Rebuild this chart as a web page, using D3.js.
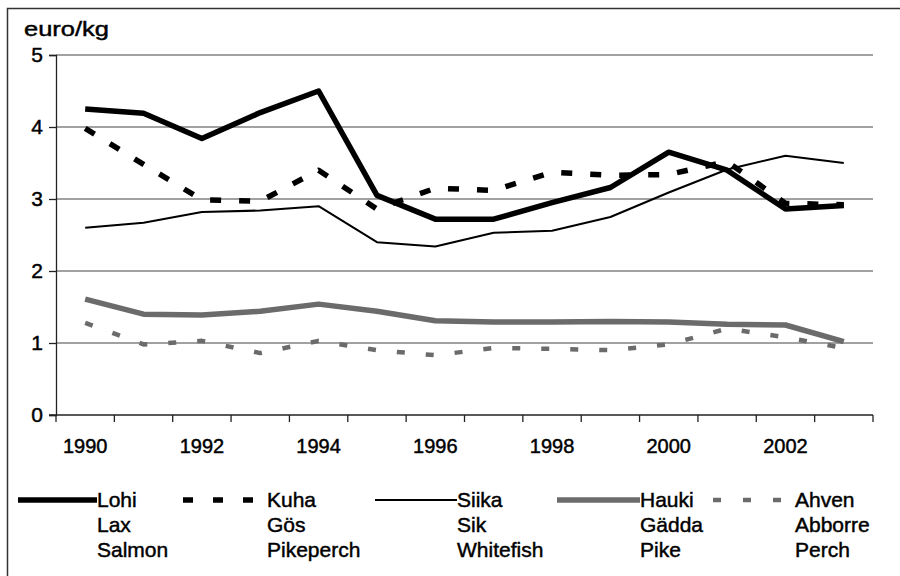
<!DOCTYPE html>
<html>
<head>
<meta charset="utf-8">
<script src="https://cdn.jsdelivr.net/npm/d3@7/dist/d3.min.js"></script>
<style>
  body { margin: 0; background: #fff; }
  svg text { font-family: "Liberation Sans", Arial, sans-serif; fill: #000; stroke: #000; stroke-width: 0.45px; }
</style>
</head>
<body>
<svg id="chart" width="900" height="576"></svg>
<script>
// years on the category axis
var years = [1990, 1991, 1992, 1993, 1994, 1995, 1996, 1997, 1998, 1999, 2000, 2001, 2002, 2003];
var yTicks = [0, 1, 2, 3, 4, 5];

// euro/kg by species
var lohi  = [4.25, 4.19, 3.84, 4.2, 4.5, 3.05, 2.72, 2.72, 2.95, 3.16, 3.65, 3.4, 2.86, 2.91];
var kuha  = [3.98, 3.48, 2.99, 2.97, 3.4, 2.86, 3.15, 3.12, 3.37, 3.33, 3.34, 3.52, 2.94, 2.92];
var siika = [2.6, 2.67, 2.82, 2.84, 2.9, 2.4, 2.34, 2.53, 2.56, 2.75, 3.09, 3.41, 3.6, 3.5];
var hauki = [1.61, 1.4, 1.39, 1.44, 1.54, 1.44, 1.31, 1.29, 1.29, 1.3, 1.29, 1.26, 1.25, 1.02];
var ahven = [1.28, 0.98, 1.03, 0.86, 1.03, 0.9, 0.83, 0.93, 0.92, 0.9, 0.98, 1.2, 1.08, 0.93];

var legendLabels = [
  ["Lohi", "Lax", "Salmon"],
  ["Kuha", "Gös", "Pikeperch"],
  ["Siika", "Sik", "Whitefish"],
  ["Hauki", "Gädda", "Pike"],
  ["Ahven", "Abborre", "Perch"]
];

var series = [
  { values: lohi,  color: "#000", width: 5.5, dash: null },
  { values: kuha,  color: "#000", width: 5.5, dash: "11,18" },
  { values: siika, color: "#000", width: 2,   dash: null },
  { values: hauki, color: "#6b6b6b", width: 5.5, dash: null },
  { values: ahven, color: "#6b6b6b", width: 4.5, dash: "8,21" }
];

var svg = d3.select("#chart");

// outer frame (right/bottom fall outside the picture)
svg.append("rect")
  .attr("x", 7.5).attr("y", 8.5)
  .attr("width", 900).attr("height", 600)
  .attr("fill", "none").attr("stroke", "#333").attr("stroke-width", 1.5);

var plotLeft = 56, plotRight = 873, plotTop = 55, plotBottom = 415;

var x = d3.scaleBand()
  .domain(years)
  .range([plotLeft, plotRight]);

var y = d3.scaleLinear()
  .domain([0, 5])
  .range([plotBottom, plotTop]);

// gridlines
svg.append("g")
  .selectAll("line")
  .data(yTicks.slice(1))
  .enter().append("line")
    .attr("x1", plotLeft).attr("x2", plotRight)
    .attr("y1", function(d) { return y(d); })
    .attr("y2", function(d) { return y(d); })
    .attr("stroke", "#444").attr("stroke-width", 1.2);

// y axis
var yAxis = svg.append("g")
  .attr("transform", "translate(" + plotLeft + ",0)")
  .call(d3.axisLeft(y).tickValues(yTicks).tickSize(7).tickPadding(6).tickFormat(d3.format("d")));
yAxis.selectAll("text").style("font-size", "21px");
yAxis.selectAll("line, path").attr("stroke", "#222").attr("stroke-width", 1.3);

// x axis (ticks at category boundaries, labels every other year)
var xAxis = svg.append("g")
  .attr("transform", "translate(0," + plotBottom + ")");
xAxis.append("line")
  .attr("x1", plotLeft - 7).attr("x2", plotRight)
  .attr("stroke", "#222").attr("stroke-width", 1.3);
xAxis.selectAll(".tk")
  .data(years.concat([null]))
  .enter().append("line")
    .attr("class", "tk")
    .attr("x1", function(d, i) { return plotLeft + i * x.step(); })
    .attr("x2", function(d, i) { return plotLeft + i * x.step(); })
    .attr("y1", 0).attr("y2", 7)
    .attr("stroke", "#222").attr("stroke-width", 1.3);
xAxis.selectAll(".lbl")
  .data(years.filter(function(d) { return d % 2 === 0; }))
  .enter().append("text")
    .attr("class", "lbl")
    .attr("x", function(d) { return x(d) + x.bandwidth() / 2; })
    .attr("y", 38)
    .attr("text-anchor", "middle")
    .style("font-size", "20px")
    .text(function(d) { return d; });

svg.append("text")
  .attr("x", 24).attr("y", 36)
  .attr("textLength", 85)
  .attr("lengthAdjust", "spacingAndGlyphs")
  .style("font-size", "21px")
  .text("euro/kg");

var line = d3.line()
  .x(function(d, i) { return x(years[i]) + x.bandwidth() / 2; })
  .y(function(d) { return y(d); });

// draw back to front so Lohi ends on top
series.slice().reverse().forEach(function(s) {
  svg.append("path")
    .datum(s.values)
    .attr("fill", "none")
    .attr("stroke", s.color)
    .attr("stroke-width", s.width)
    .attr("stroke-dasharray", s.dash)
    .attr("stroke-linejoin", "round")
    .attr("d", line);
});

// legend
var legendX = [[18, 97], [183, 267], [375, 457], [557, 640], [713, 795]];
var legendY = 500;
legendLabels.forEach(function(labels, i) {
  var s = series[i];
  var g = svg.append("g");
  g.append("line")
    .attr("x1", legendX[i][0]).attr("x2", legendX[i][1] - (s.dash ? 10 : 0))
    .attr("y1", legendY).attr("y2", legendY)
    .attr("stroke", s.color)
    .attr("stroke-width", s.width)
    .attr("stroke-dasharray", s.dash ? (i === 1 ? "10,20" : "8,22") : null);
  g.selectAll("text")
    .data(labels)
    .enter().append("text")
      .attr("x", legendX[i][1])
      .attr("y", function(d, j) { return 507 + j * 25; })
      .style("font-size", "21px")
      .text(function(d) { return d; });
});
</script>
</body>
</html>
